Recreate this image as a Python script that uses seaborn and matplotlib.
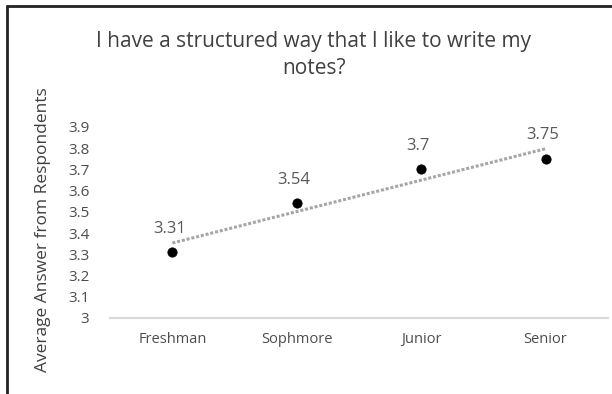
import numpy as np
import pandas as pd
import seaborn as sns
from matplotlib import pyplot as plt
from matplotlib.lines import Line2D

classes = ["Freshman", "Sophmore", "Junior", "Senior"]
avg_answer = [3.31, 3.54, 3.7, 3.75]
y_ticks = [3, 3.1, 3.2, 3.3, 3.4, 3.5, 3.6, 3.7, 3.8, 3.9]
y_tick_labels = ["3", "3.1", "3.2", "3.3", "3.4", "3.5", "3.6", "3.7", "3.8", "3.9"]

df = pd.DataFrame({"pos": np.arange(len(classes)), "avg": avg_answer})

sns.set_style("white")
plt.rcParams["font.family"] = ["Open Sans", "DejaVu Sans"]

fig = plt.figure(figsize=(6.12, 3.94), dpi=100)
ax = fig.add_axes([0.18, 0.193, 0.813, 0.485])

# linear trendline, dotted gray
sns.regplot(x="pos", y="avg", data=df, ax=ax, scatter=False, ci=None, truncate=True,
            line_kws={"color": "#a6a6a6", "linestyle": (0, (1, 0.6)), "linewidth": 2.2})
sns.scatterplot(x="pos", y="avg", data=df, ax=ax, color="black", s=45, edgecolor="black", zorder=3)

for x, y in zip(df["pos"], df["avg"]):
    ax.annotate(f"{y:g}", (x, y), xytext=(-2, 11), textcoords="offset points",
                ha="center", va="bottom", fontsize=12, color="#595959")

ax.set_xlim(-0.5, len(classes) - 0.5)
ax.set_ylim(3, 3.9)
ax.set_xticks(df["pos"])
ax.set_xticklabels(classes, fontsize=10.5, color="#4d4d4d")
ax.set_yticks(y_ticks)
ax.set_yticklabels(y_tick_labels, fontsize=11, color="#4d4d4d")
ax.tick_params(axis="both", length=0, pad=10)
ax.tick_params(axis="y", pad=15)
ax.set_xlabel("")
ax.set_ylabel("Average Answer from Respondents", fontsize=12.5, color="#404040")
ax.yaxis.set_label_coords(-0.118, 0.462)

for s in ["top", "right", "left"]:
    ax.spines[s].set_visible(False)
ax.spines["bottom"].set_color("#d9d9d9")
ax.spines["bottom"].set_linewidth(1.5)

fig.text(0.513, 0.86, "I have a structured way that I like to write my\nnotes?",
         ha="center", va="center", fontsize=15, color="#404040", linespacing=1.4)

# outer frame (top and left edges visible in the reference)
fig.add_artist(Line2D([0.011, 1.0], [0.984, 0.984], color="#222222", linewidth=2, transform=fig.transFigure))
fig.add_artist(Line2D([0.011, 0.011], [0.0, 0.984], color="#222222", linewidth=2, transform=fig.transFigure))

fig.savefig("out.png", dpi=100)
